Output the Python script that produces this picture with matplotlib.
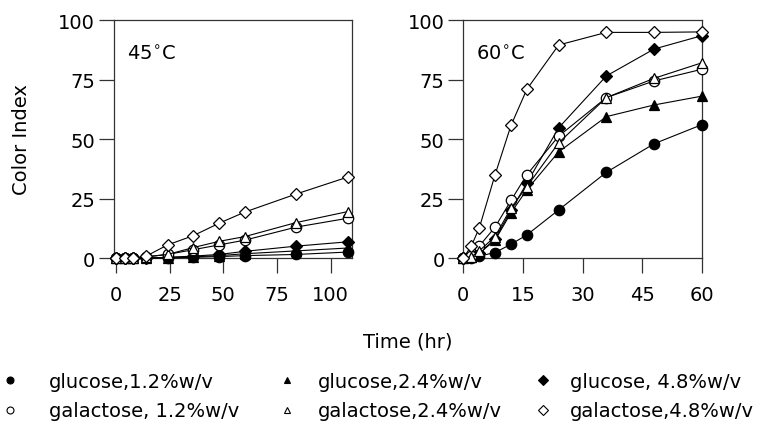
import matplotlib
matplotlib.use("Agg")
import matplotlib.pyplot as plt
from matplotlib.lines import Line2D

plt.rcParams['font.family'] = ['DejaVu Sans']
plt.rcParams['mathtext.fontset'] = 'dejavusans'

# 45 C panel
t45 = [0, 4, 8, 14, 24, 36, 48, 60, 84, 108]
glc12_45 = [0, 0, 0, 0, 0, 0.3, 0.6, 1.0, 1.5, 2.5]
glc24_45 = [0, 0, 0, 0, 0.2, 0.5, 1.0, 1.8, 3.0, 4.2]
glc48_45 = [0, 0, 0, 0, 0.3, 0.8, 1.5, 2.8, 5.0, 6.8]
gal12_45 = [0, 0, 0, 0.5, 1.5, 3.5, 5.5, 7.5, 13.0, 16.7]
gal24_45 = [0, 0, 0, 0.5, 1.5, 4.4, 7.0, 9.0, 14.9, 19.5]
gal48_45 = [0, 0, 0, 0.8, 5.5, 9.4, 14.6, 19.3, 26.9, 34.0]

# 60 C panel
t60 = [0, 2, 4, 8, 12, 16, 24, 36, 48, 60]
glc12_60 = [0, 0, 0.8, 2.3, 5.8, 9.7, 20.2, 36.0, 48.0, 56.0]
glc24_60 = [0, 0.5, 2.0, 7.5, 19.0, 28.7, 44.6, 59.4, 64.3, 68.0]
glc48_60 = [0, 0.5, 2.0, 8.0, 20.0, 31.5, 54.7, 76.5, 87.8, 93.4]
gal12_60 = [0, 1.0, 5.0, 13.0, 24.2, 35.0, 51.2, 67.4, 74.4, 79.3]
gal24_60 = [0, 0.5, 3.0, 9.0, 21.0, 30.0, 48.4, 67.4, 75.5, 82.0]
gal48_60 = [0, 5.0, 12.5, 35.0, 55.7, 70.9, 89.5, 94.8, 94.8, 95.0]

labels = ["glucose,1.2%w/v", "glucose,2.4%w/v", "glucose, 4.8%w/v",
          "galactose, 1.2%w/v", "galactose,2.4%w/v", "galactose,4.8%w/v"]
markers = ["o", "^", "D", "o", "^", "D"]
faces = ["black", "black", "black", "white", "white", "white"]
msizes = [7.5, 7.5, 6.5, 7.5, 7.5, 6.5]

FS = 14

fig = plt.figure(figsize=(7.61, 4.27), dpi=100)
ax1 = fig.add_axes([0.1498, 0.3934, 0.3127, 0.5574])
ax2 = fig.add_axes([0.6088, 0.3934, 0.3133, 0.5574])

panels = [
    (ax1, t45, [glc12_45, glc24_45, glc48_45, gal12_45, gal24_45, gal48_45], r"45$^{\circ}$C", (-1, 110), [0, 25, 50, 75, 100]),
    (ax2, t60, [glc12_60, glc24_60, glc48_60, gal12_60, gal24_60, gal48_60], r"60$^{\circ}$C", (0, 60), [0, 15, 30, 45, 60]),
]

for ax, t, series, title, xlim, xt in panels:
    for y, m, fc, ms in zip(series, markers, faces, msizes):
        ax.plot(t, y, color="black", lw=0.8, marker=m, markerfacecolor=fc,
                markeredgecolor="black", markersize=ms, markeredgewidth=0.9,
                clip_on=False, zorder=3)
    ax.set_xlim(*xlim)
    ax.set_ylim(0, 100)
    ax.set_xticks(xt)
    ax.set_yticks([0, 25, 50, 75, 100])
    ax.tick_params(direction="out", length=10.5, width=0.9, labelsize=FS,
                   colors="#333333", labelcolor="black")
    ax.tick_params(axis="x", pad=9)
    ax.tick_params(axis="y", pad=3)
    for s in ax.spines.values():
        s.set_linewidth(0.9)
        s.set_color("#333333")
    ax.text(0.055, 0.857, title, transform=ax.transAxes, fontsize=FS, va="center")

fig.text(22 / 761, 0.672, "Color Index", rotation=90, ha="center", va="center", fontsize=FS)
fig.text(0.536, 0.2, "Time (hr)", ha="center", va="center", fontsize=FS)

# legend: three columns, placed one by one
cols = [(0, 3, 0.0, 1.5), (1, 4, 277 / 761, 1.1), (2, 5, 533 / 761, 0.89)]
for a, b, x0, pad in cols:
    hs = []
    for i in (a, b):
        hs.append(Line2D([], [], ls="none", marker=markers[i], markerfacecolor=faces[i],
                         markeredgecolor="black", markersize=5, markeredgewidth=0.8,
                         label=labels[i]))
    fig.legend(handles=hs, loc="center left", bbox_to_anchor=(x0, 0.07),
               frameon=False, fontsize=FS, handlelength=1.0, handletextpad=pad,
               labelspacing=0.55, borderpad=0, borderaxespad=0)

fig.savefig("out.png", dpi=100)
